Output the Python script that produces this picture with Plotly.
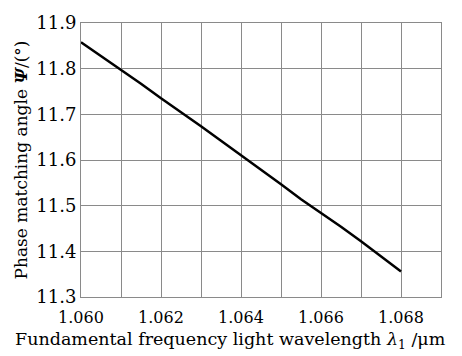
import plotly.graph_objects as go

wavelength = [1.060, 1.0605, 1.061, 1.0615, 1.062, 1.0625, 1.063, 1.0635, 1.064, 1.0645,
              1.065, 1.0655, 1.066, 1.0665, 1.067, 1.0675, 1.068]
angle = [11.858, 11.828, 11.797, 11.767, 11.735, 11.705, 11.674, 11.642, 11.611, 11.578,
         11.547, 11.514, 11.484, 11.454, 11.422, 11.390, 11.356]
x_ticks = [1.060, 1.062, 1.064, 1.066, 1.068]
x_tick_labels = ["1.060", "1.062", "1.064", "1.066", "1.068"]
y_ticks = [11.3, 11.4, 11.5, 11.6, 11.7, 11.8, 11.9]
x_title = "Fundamental frequency light wavelength <i>λ</i><sub>1</sub> /μm"
y_title = "Phase matching angle <b><i>Ψ</i></b>/(°)"

font_family = "DejaVu Serif, Liberation Serif, serif"

fig = go.Figure()
fig.add_trace(go.Scatter(x=wavelength, y=angle, mode="lines",
                         line=dict(color="black", width=2.5), showlegend=False))

grid_color = "#8a8a8a"
fig.update_xaxes(range=[1.060, 1.069], tickvals=x_ticks, ticktext=x_tick_labels,
                 showgrid=True, gridcolor=grid_color, gridwidth=1,
                 minor=dict(dtick=0.001, showgrid=True, gridcolor=grid_color, gridwidth=1),
                 showline=True, linecolor=grid_color, linewidth=1, mirror=True,
                 zeroline=False, ticks="", ticklen=0, ticklabelstandoff=6,
                 tickfont=dict(family=font_family, size=16, color="black"))
fig.update_yaxes(range=[11.3, 11.9], tickvals=y_ticks,
                 tickformat=".1f",
                 showgrid=True, gridcolor=grid_color, gridwidth=1,
                 showline=True, linecolor=grid_color, linewidth=1, mirror=True,
                 zeroline=False, ticks="", ticklen=0,
                 tickfont=dict(family=font_family, size=18, color="black"),
                 title=dict(text=y_title,
                            font=dict(family=font_family, size=17, color="black"),
                            standoff=4))

fig.add_annotation(text=x_title, xref="paper", yref="paper",
                   x=(230 - 81) / 360, y=-(341 - 297) / 278,
                   xanchor="center", yanchor="middle", showarrow=False,
                   font=dict(family=font_family, size=17.5, color="black"))

fig.update_layout(width=462, height=356,
                  margin=dict(l=81, r=21, t=19, b=59),
                  plot_bgcolor="white", paper_bgcolor="white")

fig.write_html("out.html")
